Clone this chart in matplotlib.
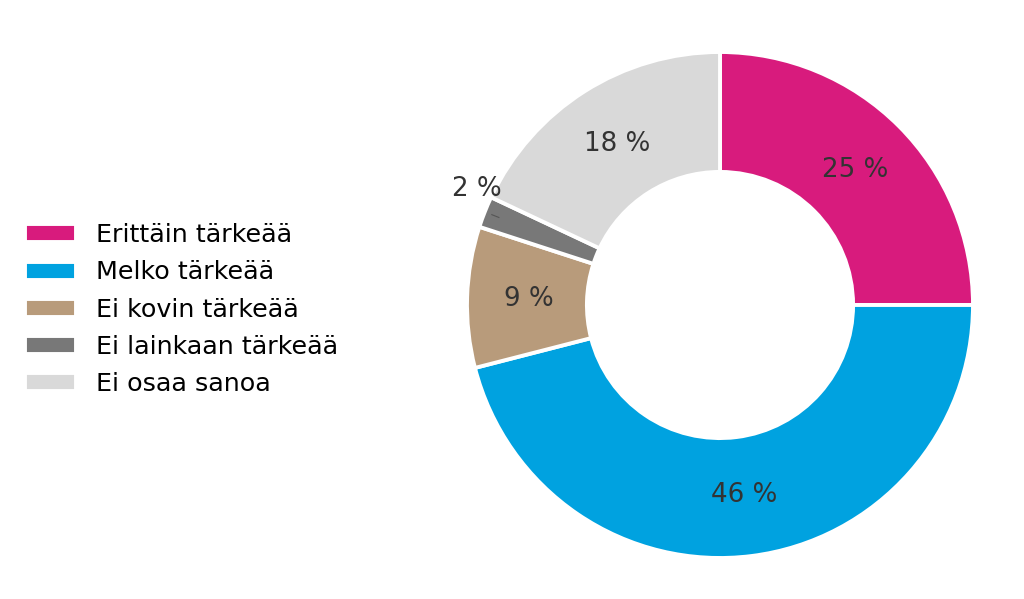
import numpy as np
import matplotlib.pyplot as plt

labels = ["Erittäin tärkeää", "Melko tärkeää", "Ei kovin tärkeää",
          "Ei lainkaan tärkeää", "Ei osaa sanoa"]
values = [25, 46, 9, 2, 18]
colors = ["#d81b7d", "#00a2e0", "#b89b7b", "#787878", "#d9d9d9"]

fig = plt.figure(figsize=(10.24, 5.99), dpi=100)
ax = fig.add_axes([467 / 1024, 41 / 599, 506 / 1024, 506 / 599])

wedges, _ = ax.pie(values, colors=colors, startangle=90, counterclock=False,
                   radius=1, wedgeprops=dict(width=0.474, edgecolor="white", linewidth=2.8))
ax.set_xlim(-1, 1)
ax.set_ylim(-1, 1)
ax.set_aspect("equal")

for w, v in zip(wedges, values):
    mid = np.deg2rad((w.theta1 + w.theta2) / 2)
    if v < 5:
        # small slice: label outside with a short leader
        ax.plot([0.97 * np.cos(mid), 0.94 * np.cos(mid)],
                [0.97 * np.sin(mid), 0.94 * np.sin(mid)], color="#555555", lw=0.8)
        ax.text(-0.96, 0.46, f"{v} %", ha="center", va="center",
                fontsize=18.8, color="#333333")
    else:
        ax.text(0.755 * np.cos(mid), 0.755 * np.sin(mid), f"{v} %",
                ha="center", va="center", fontsize=18.8, color="#333333")

fig.legend(wedges, labels, loc="center left", bbox_to_anchor=(0.002, 0.483),
           frameon=False, fontsize=18.3, handlelength=2.0, handleheight=0.72,
           handletextpad=0.8, labelspacing=0.52)

fig.savefig("out.png", dpi=100)
